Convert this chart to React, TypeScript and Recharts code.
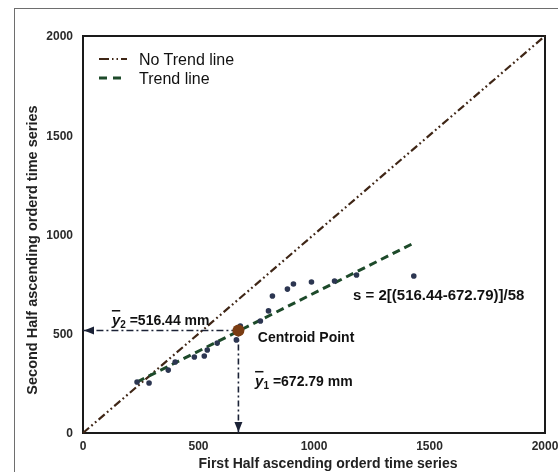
import React from 'react';
import {
  ScatterChart,
  Scatter,
  XAxis,
  YAxis,
  ReferenceLine,
  ReferenceDot,
  ReferenceArea,
  Label,
} from 'recharts';

// observed points (first half value, second half value)
const firstHalf = [234, 286, 369, 399, 482, 525, 538, 581, 664, 681, 768, 803, 820, 885, 911, 989, 1089, 1184, 1432];
const secondHalf = [257, 252, 317, 358, 383, 388, 418, 453, 469, 539, 564, 615, 690, 725, 751, 761, 766, 796, 791];

// trend line end points
const trendX = [234, 1432];
const trendY = [257, 957];

// no trend (1:1) line end points
const noTrendX = [0, 2000];
const noTrendY = [0, 2000];

// centroid
const centroidX = 672.79;
const centroidY = 516.44;

const ticks = [0, 500, 1000, 1500, 2000];

const points = firstHalf.map((x, i) => ({ x, y: secondHalf[i] }));
const trend = trendX.map((x, i) => ({ x, y: trendY[i] }));

const C_NOTREND = '#3f2616';
const C_TREND = '#1d4a2a';
const C_POINT = '#2c3651';
const C_ARROW = '#1b2236';
const FONT = '"Liberation Sans", Arial, sans-serif';

const textAt = (render: (cx: number, cy: number) => React.ReactNode) => (p: any) => (
  <g>{render(p.cx, p.cy)}</g>
);

export default function App() {
  return (
    <div style={{ position: 'fixed', left: 8, top: 8, width: 550, height: 464, overflow: 'hidden', fontFamily: FONT }}>
      <div
        style={{
          position: 'absolute',
          left: 6,
          top: 0,
          width: 700,
          height: 700,
          border: '1.5px solid #6e6e6e',
          boxSizing: 'border-box',
        }}
      />
      <ScatterChart
        width={550}
        height={464}
        margin={{ top: 28, right: 13, bottom: 9, left: 15 }}
        style={{ position: 'absolute', left: 0, top: 0 }}
      >
        <XAxis
          type="number"
          dataKey="x"
          domain={[0, 2000]}
          ticks={ticks}
          allowDataOverflow
          height={30}
          tickLine={false}
          axisLine={false}
          tick={{ fontSize: 12, fontWeight: 700, fill: '#2a2a2a', fontFamily: FONT }}
        >
          <Label
            content={() => (
              <text x={320} y={460} textAnchor="middle" fontSize={14} fontWeight={700} fill="#222" fontFamily={FONT}>
                First Half ascending orderd time series
              </text>
            )}
          />
        </XAxis>
        <YAxis
          type="number"
          dataKey="y"
          domain={[0, 2000]}
          ticks={ticks}
          allowDataOverflow
          width={60}
          tickLine={false}
          axisLine={false}
          tickMargin={4}
          tick={{ fontSize: 12, fontWeight: 700, fill: '#2a2a2a', fontFamily: FONT }}
        >
          <Label
            content={() => (
              <text
                x={29}
                y={242}
                transform="rotate(-90 29 242)"
                textAnchor="middle"
                fontSize={14.5}
                fontWeight={700}
                fill="#222"
                fontFamily={FONT}
              >
                Second Half ascending orderd time series
              </text>
            )}
          />
        </YAxis>
        <ReferenceArea x1={0} x2={2000} y1={0} y2={2000} stroke="#1a1a1a" strokeWidth={2} fill="none" fillOpacity={0} />
        <ReferenceLine
          segment={[
            { x: noTrendX[0], y: noTrendY[0] },
            { x: noTrendX[1], y: noTrendY[1] },
          ]}
          stroke={C_NOTREND}
          strokeWidth={2.2}
          strokeDasharray="8 3 1.8 3 1.8 3"
        />
        <Scatter
          data={trend}
          isAnimationActive={false}
          line={{ stroke: C_TREND, strokeWidth: 3, strokeDasharray: '8 5' }}
          shape={() => <g />}
        />
        <Scatter data={points} isAnimationActive={false} fill={C_POINT} shape={(p: any) => <circle cx={p.cx} cy={p.cy} r={2.8} fill={C_POINT} />} />
        <ReferenceDot x={centroidX} y={centroidY} r={6} fill="#7a3c12" stroke="none" />
        <ReferenceLine
          segment={[
            { x: centroidX, y: centroidY },
            { x: 0, y: centroidY },
          ]}
          stroke={C_ARROW}
          strokeWidth={1.6}
          strokeDasharray="7 3 2 3"
        />
        <ReferenceLine
          segment={[
            { x: centroidX, y: centroidY },
            { x: centroidX, y: 0 },
          ]}
          stroke={C_ARROW}
          strokeWidth={1.6}
          strokeDasharray="6 3 2 3"
        />
        <ReferenceDot
          x={0}
          y={centroidY}
          r={1}
          shape={(p: any) => (
            <polygon points={`${p.cx + 1},${p.cy} ${p.cx + 11},${p.cy - 4} ${p.cx + 11},${p.cy + 4}`} fill={C_ARROW} />
          )}
        />
        <ReferenceDot
          x={centroidX}
          y={0}
          r={1}
          shape={(p: any) => (
            <polygon points={`${p.cx},${p.cy - 1} ${p.cx - 4},${p.cy - 11} ${p.cx + 4},${p.cy - 11}`} fill={C_ARROW} />
          )}
        />
        <ReferenceDot
          x={125}
          y={544}
          r={1}
          shape={textAt((cx, cy) => (
            <text x={cx} y={cy} fontSize={14} fontWeight={700} fill="#111" fontFamily={FONT}>
              <tspan fontStyle="italic" fontSize={15} style={{ textDecoration: 'overline' }}>y</tspan>
              <tspan fontSize={10} dy={3}>2</tspan>
              <tspan dy={-3}> =516.44 mm</tspan>
            </text>
          ))}
        />
        <ReferenceDot
          x={757}
          y={458}
          r={1}
          shape={textAt((cx, cy) => (
            <text x={cx} y={cy} fontSize={14} fontWeight={700} fill="#111" fontFamily={FONT}>
              Centroid Point
            </text>
          ))}
        />
        <ReferenceDot
          x={745}
          y={237}
          r={1}
          shape={textAt((cx, cy) => (
            <text x={cx} y={cy} fontSize={14} fontWeight={700} fill="#111" fontFamily={FONT}>
              <tspan fontStyle="italic" fontSize={15} style={{ textDecoration: 'overline' }}>y</tspan>
              <tspan fontSize={10} dy={3}>1</tspan>
              <tspan dy={-3}> =672.79 mm</tspan>
            </text>
          ))}
        />
        <ReferenceDot
          x={1169}
          y={670}
          r={1}
          shape={textAt((cx, cy) => (
            <text x={cx} y={cy} fontSize={15} fontWeight={700} fill="#111" fontFamily={FONT}>
              s = 2[(516.44-672.79)]/58
            </text>
          ))}
        />
      </ScatterChart>
      <svg style={{ position: 'absolute', left: 0, top: 0 }} width={260} height={90}>
        <line x1={91} y1={51} x2={119} y2={51} stroke={C_NOTREND} strokeWidth={2} strokeDasharray="10 3 1.5 3 1.5 3" />
        <text x={131} y={56.5} fontSize={16} fill="#111" fontFamily={FONT}>No Trend line</text>
        <line x1={91} y1={70} x2={116} y2={70} stroke={C_TREND} strokeWidth={3} strokeDasharray="8 6" />
        <text x={131} y={75.5} fontSize={16} fill="#111" fontFamily={FONT}>Trend line</text>
      </svg>
    </div>
  );
}
